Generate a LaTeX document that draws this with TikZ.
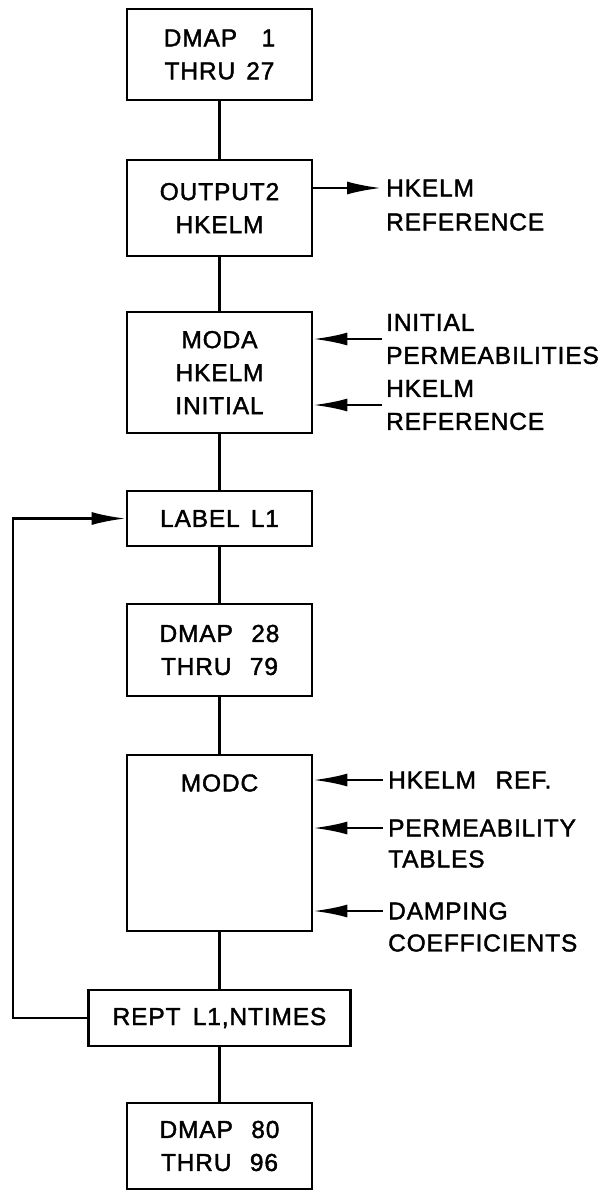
\documentclass[tikz,border=0pt]{standalone}
\usepackage{fontspec}
\setmainfont{Liberation Sans}[LetterSpace=3.5,FakeBold=1.6]
\usetikzlibrary{arrows.meta}
\newcommand\fsz{\fontsize{24.5bp}{33bp}\selectfont}
\begin{document}
\begin{tikzpicture}[x=1bp,y=-1bp,
  box/.style={draw, line width=2.8bp, minimum width=185bp, inner sep=0pt, align=center, font=\fsz},
  lbl/.style={anchor=west, inner sep=0pt, font=\fsz, align=left},
  conn/.style={line width=2.3bp},
  arr/.style={line width=2.6bp, -{Latex[length=34bp,width=13bp]}}
]
\useasboundingbox (0,0) rectangle (610,1192);

% main column
\node[box, minimum height=91bp] (b1) at (219.5,54.5) {DMAP\hspace{1em}1\\THRU\hspace{0.45em}27};
\node[box, minimum height=96bp] (b2) at (219.5,208) {OUTPUT2\\HKELM};
\node[box, minimum height=121bp] (b3) at (219.5,372.5) {MODA\\HKELM\\INITIAL};
\node[box, minimum height=55bp] (b4) at (219.5,518.5) {LABEL\hspace{0.45em}L1};
\node[box, minimum height=92bp] (b5) at (219.5,650) {DMAP\hspace{0.75em}28\\THRU\hspace{0.75em}79};
\node[box, minimum height=176bp] (b6) at (219.5,843) {};
\node[font=\fsz, inner sep=0pt] (b6t) at (219.5,783) {MODC};
\node[box, minimum width=262bp, minimum height=56bp] (b7) at (219.5,1018) {REPT\hspace{0.5em}L1,NTIMES};
\node[box, minimum height=86bp] (b8) at (219.5,1146) {DMAP\hspace{0.75em}80\\THRU\hspace{0.75em}96};

\draw[conn] (b1) -- (b2);
\draw[conn] (b2) -- (b3);
\draw[conn] (b3) -- (b4);
\draw[conn] (b4) -- (b5);
\draw[conn] (b5) -- (b6);
\draw[conn] (b6) -- (b7);
\draw[conn] (b7) -- (b8);

% loop back
\coordinate (lp) at (13,770);
\draw[arr] (b7.west) -| (lp) |- (b4.west);

% OUTPUT2 output
\node[lbl] (o1) at (386,188) {HKELM};
\node[lbl] (o2) at (386,222) {REFERENCE};
\draw[arr] (b2.east |- o1.west) -- ([xshift=-5bp]o1.west);

% MODA inputs
\node[lbl] (i1) at (386,339) {INITIAL\\PERMEABILITIES};
\node[lbl] (i2) at (386,405) {HKELM\\REFERENCE};
\draw[arr] ([xshift=-4bp]i1.west) -- (b3.east |- i1.west);
\draw[arr] ([xshift=-4bp]i2.west) -- (b3.east |- i2.west);

% MODC inputs
\node[lbl] (m1) at (388,780) {HKELM\hspace{0.8em}REF.};
\node[lbl] (m2) at (388,828) {PERMEABILITY};
\node[lbl] (m3) at (388,859) {TABLES};
\node[lbl] (m4) at (388,911) {DAMPING};
\node[lbl] (m5) at (388,943) {COEFFICIENTS};
\draw[arr] ([xshift=-5bp]m1.west) -- (b6.east |- m1.west);
\draw[arr] ([xshift=-5bp]m2.west) -- (b6.east |- m2.west);
\draw[arr] ([xshift=-5bp]m4.west) -- (b6.east |- m4.west);
\end{tikzpicture}
\end{document}
